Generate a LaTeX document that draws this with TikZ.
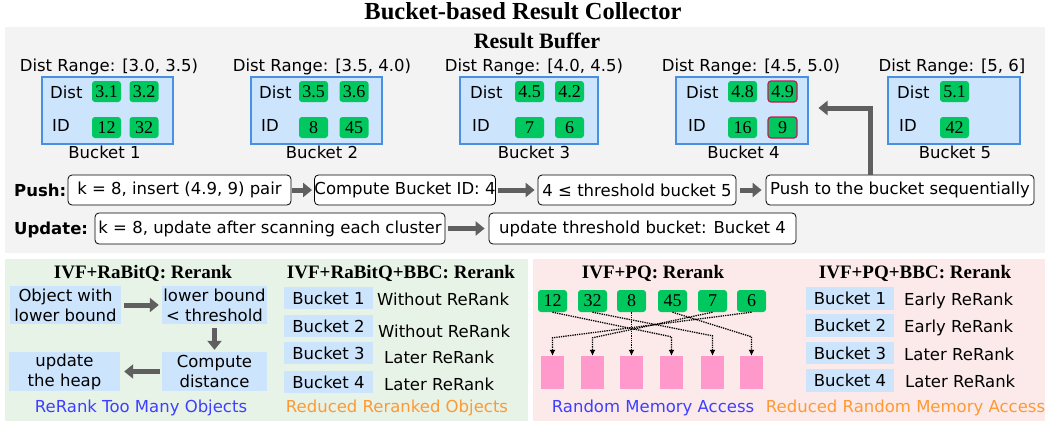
\documentclass[tikz,border=0pt]{standalone}
\usepackage{fontspec}
\setmainfont{DejaVu Sans}
\newfontfamily\tnr{Liberation Serif}
\usetikzlibrary{arrows.meta,calc}
\definecolor{pgray}{HTML}{F3F3F3}
\definecolor{pgreen}{HTML}{E7F3E7}
\definecolor{ppink}{HTML}{FCEAEA}
\definecolor{lblue}{HTML}{CCE4FC}
\definecolor{bblue}{HTML}{4A90E2}
\definecolor{ngreen}{HTML}{00C85F}
\definecolor{crim}{HTML}{C8185C}
\definecolor{agray}{HTML}{5F5F5F}
\definecolor{mpink}{HTML}{FF99CC}
\definecolor{tblue}{HTML}{3F3FFF}
\definecolor{torange}{HTML}{FF9933}
\begin{document}
\begin{tikzpicture}[x=1pt,y=-1pt,
  txt/.style={font=\fontsize{16.5}{20}\selectfont, inner sep=0pt, text=black},
  btxt/.style={font=\bfseries\fontsize{16.5}{20}\selectfont, inner sep=0pt, text=black},
  ttl/.style={font=\tnr\bfseries\fontsize{19}{22}\selectfont, inner sep=0pt, anchor=base},
  bucket/.style={draw=bblue, line width=1.5pt, fill=lblue, minimum height=67pt, inner sep=0pt, anchor=north west},
  num/.style={fill=ngreen, rounded corners=3pt, minimum width=29pt, minimum height=21pt, inner sep=0pt, font=\tnr\fontsize{18}{18}\selectfont},
  hl/.style={draw=crim, line width=1.2pt},
  pbox/.style={draw, rounded corners=4pt, fill=white, inner sep=0pt, line width=0.8pt, font=\fontsize{16.5}{20}\selectfont},
  garrow/.style={draw=agray, line width=5pt, -{Triangle[length=9pt,width=14pt]}},
  lbox/.style={fill=lblue, inner sep=0pt, align=center, font=\fontsize{16.5}{20}\selectfont},
  mem/.style={fill=mpink, minimum width=23pt, minimum height=33pt, inner sep=0pt},
  darrow/.style={dash pattern=on 1.3pt off 1pt, line width=1.3pt, -{Latex[length=6pt,width=6pt]}}
]
\useasboundingbox (0,0) rectangle (1047,421);
\fill[pgray] (5,27) rectangle (1045,253);
\fill[pgreen] (5,259) rectangle (528,421);
\fill[ppink] (533,259) rectangle (1045,421);

% titles
\node[ttl, font=\tnr\bfseries\fontsize{24.5}{26}\selectfont] (title) at (523,19.5) {Bucket-based Result Collector};
\node[ttl, font=\tnr\bfseries\fontsize{22}{24}\selectfont] (rb) at (537,48) {Result Buffer};

% dist ranges
\node[txt, anchor=base] (r1) at (109,71) {Dist Range: [3.0, 3.5)};
\node[txt, anchor=base] (r2) at (322,71) {Dist Range: [3.5, 4.0)};
\node[txt, anchor=base] (r3) at (534,71) {Dist Range: [4.0, 4.5)};
\node[txt, anchor=base] (r4) at (751,71) {Dist Range: [4.5, 5.0)};
\node[txt, anchor=base] (r5) at (952,71) {Dist Range: [5, 6]};

% buckets
\node[bucket, minimum width=131pt] (b1) at (41,76) {};
\node[bucket, minimum width=131pt] (b2) at (250,76) {};
\node[bucket, minimum width=138pt] (b3) at (459,76) {};
\node[bucket, minimum width=132pt] (b4) at (675,76) {};
\node[bucket, minimum width=132pt] (b5) at (887,76) {};

% bucket 1
\node[txt, anchor=base west] (d1) at (50,98.5) {Dist};
\node[txt, anchor=base west] (i1) at (52,131.5) {ID};
\node[num] (n11) at (106.5,91.5) {3.1};
\node[num] (n12) at (144,91.5) {3.2};
\node[num] (n13) at (106.5,127.5) {12};
\node[num] (n14) at (144,127.5) {32};
% bucket 2
\node[txt, anchor=base west] (d2) at (259,98.5) {Dist};
\node[txt, anchor=base west] (i2) at (261,131.5) {ID};
\node[num] (n21) at (313.5,91.5) {3.5};
\node[num] (n22) at (354,91.5) {3.6};
\node[num] (n23) at (313.5,127.5) {8};
\node[num] (n24) at (354,127.5) {45};
% bucket 3
\node[txt, anchor=base west] (d3) at (470,98.5) {Dist};
\node[txt, anchor=base west] (i3) at (472,131.5) {ID};
\node[num] (n31) at (529.5,91.5) {4.5};
\node[num] (n32) at (569.5,91.5) {4.2};
\node[num] (n33) at (529.5,127.5) {7};
\node[num] (n34) at (569.5,127.5) {6};
% bucket 4
\node[txt, anchor=base west] (d4) at (686,98.5) {Dist};
\node[txt, anchor=base west] (i4) at (688,131.5) {ID};
\node[num] (n41) at (742.5,91.5) {4.8};
\node[num, hl] (n42) at (782.5,91.5) {4.9};
\node[num] (n43) at (742.5,127.5) {16};
\node[num, hl] (n44) at (782.5,127.5) {9};
% bucket 5
\node[txt, anchor=base west] (d5) at (897,98.5) {Dist};
\node[txt, anchor=base west] (i5) at (899,131.5) {ID};
\node[num] (n51) at (954.5,91.5) {5.1};
\node[num] (n53) at (954.5,127.5) {42};

% bucket labels
\node[txt, anchor=base] (l1) at (104.5,158) {Bucket 1};
\node[txt, anchor=base] (l2) at (322,158) {Bucket 2};
\node[txt, anchor=base] (l3) at (534,158) {Bucket 3};
\node[txt, anchor=base] (l4) at (743.5,158) {Bucket 4};
\node[txt, anchor=base] (l5) at (955,158) {Bucket 5};

% push row
\node[btxt, anchor=base west] (push) at (14,196) {Push:};
\node[pbox, minimum width=223pt, minimum height=30pt] (p1) at (179.5,190) {k = 8, insert (4.9, 9) pair};
\node[pbox, minimum width=176pt, minimum height=30pt] (p2) at (405,190) {Compute Bucket ID: 4};
\node[pbox, minimum width=198pt, minimum height=30pt] (p3) at (637,190) {4 ≤ threshold bucket 5};
\node[pbox, minimum width=268pt, minimum height=30pt] (p4) at (900,190) {Push to the bucket sequentially};
\draw[garrow] ([xshift=1pt]p1.east) -- ([xshift=-2pt]p2.west);
\draw[garrow] ([xshift=2pt]p2.east) -- ([xshift=-3pt]p3.west);
\draw[garrow] ([xshift=4pt]p3.east) -- ([xshift=-4pt]p4.west);
\coordinate (turn) at (870,108);
\draw[garrow, line join=miter] (p4.north -| turn) -- (turn) -- ([xshift=10pt]b4.east |- turn);

% update row
\node[btxt, anchor=base west] (upd) at (14,234) {Update:};
\node[pbox, minimum width=350pt, minimum height=31pt] (u1) at (270,228.5) {k = 8, update after scanning each cluster};
\node[pbox, minimum width=307pt, minimum height=31pt] (u2) at (642.5,228.5) {update threshold bucket: Bucket 4};
\draw[garrow] ([xshift=3pt]u1.east) -- ([xshift=-4pt]u2.west);

% ---- bottom left: IVF+RaBitQ
\node[ttl] (t1) at (143,278) {IVF+RaBitQ: Rerank};
\node[lbox, minimum width=111pt, minimum height=38pt] (obj) at (65.5,305) {Object with\\lower bound};
\node[lbox, minimum width=105pt, minimum height=38pt] (lb) at (214.5,305) {lower bound\\< threshold};
\node[lbox, minimum width=105pt, minimum height=39pt] (cd) at (214.5,371.5) {Compute\\distance};
\node[lbox, minimum width=111pt, minimum height=39pt] (uh) at (64.5,371.5) {update\\the heap};
\draw[garrow] ([xshift=3pt]obj.east) -- ([xshift=-3pt]lb.west);
\draw[garrow] ([yshift=-4pt]lb.south) -- ([yshift=2pt]cd.north);
\draw[garrow] ([xshift=-2pt]cd.west) -- ([xshift=4pt]uh.east);
\node[txt, anchor=base, text=tblue] (c1) at (141,412) {ReRank Too Many Objects};

% ---- IVF+RaBitQ+BBC
\node[ttl] (t2) at (401,278) {IVF+RaBitQ+BBC: Rerank};
\node[lbox, minimum width=89pt, minimum height=22pt] (ba1) at (328.5,298) {Bucket 1};
\node[lbox, minimum width=89pt, minimum height=22pt] (ba2) at (328.5,326) {Bucket 2};
\node[lbox, minimum width=89pt, minimum height=22pt] (ba3) at (328.5,353) {Bucket 3};
\node[lbox, minimum width=89pt, minimum height=22pt] (ba4) at (328.5,382) {Bucket 4};
\node[txt, anchor=base west] (wa1) at (377,305) {Without ReRank};
\node[txt, anchor=base west] (wa2) at (378,337) {Without ReRank};
\node[txt, anchor=base west] (wa3) at (384,363) {Later ReRank};
\node[txt, anchor=base west] (wa4) at (384,390) {Later ReRank};
\node[txt, anchor=base, text=torange] (c2) at (397,412) {Reduced Reranked Objects};

% ---- IVF+PQ
\node[ttl] (t3) at (653,278) {IVF+PQ: Rerank};
\node[num, minimum height=22pt] (q1) at (552.5,301) {12};
\node[num, minimum height=22pt] (q2) at (592.5,301) {32};
\node[num, minimum height=22pt] (q3) at (631.5,301) {8};
\node[num, minimum height=22pt] (q4) at (672.5,301) {45};
\node[num, minimum height=22pt] (q5) at (712.5,301) {7};
\node[num, minimum height=22pt] (q6) at (751.5,301) {6};
\node[mem] (m1) at (552.5,372.5) {};
\node[mem] (m2) at (592.5,372.5) {};
\node[mem] (m3) at (631.5,372.5) {};
\node[mem] (m4) at (671.5,372.5) {};
\node[mem] (m5) at (712.5,372.5) {};
\node[mem] (m6) at (751.5,372.5) {};
\draw[darrow] (q1.south) -- ($(m4.north)+(0,-19)$) -- (m4.north);
\draw[darrow] (q2.south) -- ($(m5.north)+(0,-20)$) -- (m5.north);
\draw[darrow] (q3.south) -- (m3.north);
\draw[darrow] (q4.south) -- ($(m6.north)+(0,-19)$) -- (m6.north);
\draw[darrow] (q5.south) -- ($(m2.north)+(0,-18)$) -- (m2.north);
\draw[darrow] (q6.south) -- ($(m1.north)+(0,-18)$) -- (m1.north);
\node[txt, anchor=base, text=tblue] (c3) at (653,412) {Random Memory Access};

% ---- IVF+PQ+BBC
\node[ttl] (t4) at (915,278) {IVF+PQ+BBC: Rerank};
\node[lbox, minimum width=88pt, minimum height=23pt] (bp1) at (850,298) {Bucket 1};
\node[lbox, minimum width=88pt, minimum height=23pt] (bp2) at (850,325.5) {Bucket 2};
\node[lbox, minimum width=88pt, minimum height=22pt] (bp3) at (850,353) {Bucket 3};
\node[lbox, minimum width=88pt, minimum height=23pt] (bp4) at (850,380.5) {Bucket 4};
\node[txt, anchor=base west] (wp1) at (904,305) {Early ReRank};
\node[txt, anchor=base west] (wp2) at (904,332) {Early ReRank};
\node[txt, anchor=base west] (wp3) at (904,360) {Later ReRank};
\node[txt, anchor=base west] (wp4) at (905,387) {Later ReRank};
\node[txt, anchor=base, text=torange] (c4) at (905.5,412) {Reduced Random Memory Access};
\end{tikzpicture}
\end{document}
